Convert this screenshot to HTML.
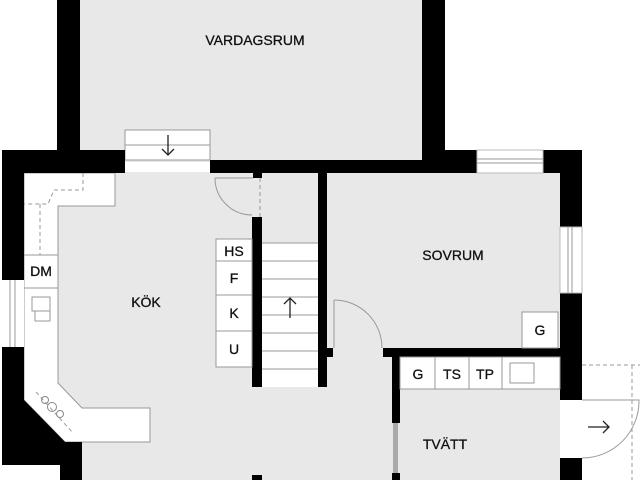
<!DOCTYPE html>
<html><head><meta charset="utf-8"><style>
html,body{margin:0;padding:0;background:#fff;}
svg{display:block}
text{font-family:"Liberation Sans",sans-serif;font-size:14px;fill:#111;text-anchor:middle;stroke:#111;stroke-width:0.3;}
</style></head><body>
<svg width="640" height="480" viewBox="0 0 640 480" xmlns="http://www.w3.org/2000/svg">
<!-- room fills -->
<rect x="80" y="0" width="342" height="162" fill="#e8e8e8"/>
<rect x="24" y="172" width="536" height="308" fill="#e8e8e8"/>
<rect x="0" y="465" width="60" height="15" fill="#fff"/>
<!-- kitchen counters white -->
<polygon points="24,173 115,173 115,206 58,206 58,383 82,408 150,408 150,442 65,442 24,400" fill="#fff" stroke="#999" stroke-width="1"/>
<line x1="24" y1="255" x2="58" y2="255" stroke="#999"/>
<line x1="24" y1="288" x2="58" y2="288" stroke="#999"/>
<g stroke="#999" stroke-dasharray="4,3" fill="none">
<polyline points="83,173 83,190 54,190 48,204 24,204"/>
<line x1="40" y1="204" x2="40" y2="255"/>
<line x1="36" y1="392" x2="73" y2="433"/>
</g>
<rect x="32" y="297" width="18" height="14" fill="none" stroke="#999"/>
<rect x="35" y="311" width="15" height="10" fill="none" stroke="#999"/>
<g fill="none" stroke="#888">
<circle cx="45" cy="400" r="3.5"/><circle cx="52" cy="407" r="4.5"/><circle cx="60" cy="414" r="3.5"/>
</g>
<text x="41" y="276">DM</text>
<!-- stair top (entry) -->
<rect x="125" y="130" width="85" height="30" fill="#fff" stroke="#999"/>
<line x1="125" y1="145" x2="210" y2="145" stroke="#999"/>
<path d="M168 135 V155 M162 149 L168 155 L174 149" stroke="#222" stroke-width="1.3" fill="none"/>
<!-- walls -->
<g fill="#000">
<rect x="57" y="0" width="23" height="162"/>
<rect x="422" y="0" width="23" height="162"/>
<rect x="2" y="150" width="123" height="23"/>
<rect x="210" y="160" width="267" height="13"/>
<rect x="445" y="150" width="32" height="23"/>
<rect x="543" y="150" width="39" height="23"/>
<rect x="560" y="150" width="22" height="77"/>
<rect x="2" y="150" width="22" height="130"/>
<polygon points="2,347 24,347 24,400 65,442 82,442 82,480 60,480 60,465 2,465"/>
<rect x="253" y="160" width="9" height="18"/>
<rect x="252" y="217" width="10" height="170"/>
<rect x="318" y="173" width="9" height="214"/>
<rect x="318" y="348" width="15" height="9"/>
<rect x="383" y="348" width="177" height="9"/>
<rect x="560" y="293" width="22" height="107"/>
<rect x="560" y="458" width="22" height="22"/>
<rect x="392" y="348" width="8" height="75"/>
<rect x="392" y="473" width="8" height="7"/>
<rect x="252" y="475" width="10" height="5"/>
</g>
<rect x="393" y="423" width="5" height="50" fill="#aaa"/>
<!-- windows -->
<rect x="2" y="280" width="22" height="67" fill="#fff"/>
<line x1="10" y1="280" x2="10" y2="347" stroke="#999"/><line x1="15" y1="280" x2="15" y2="347" stroke="#999"/>
<rect x="477" y="150" width="66" height="23" fill="#fff" stroke="#bbb"/>
<line x1="477" y1="159" x2="543" y2="159" stroke="#999"/><line x1="477" y1="163" x2="543" y2="163" stroke="#999"/>
<rect x="560" y="227" width="22" height="66" fill="#fff" stroke="#bbb"/>
<line x1="568" y1="227" x2="568" y2="293" stroke="#999"/><line x1="572" y1="227" x2="572" y2="293" stroke="#999"/>
<!-- door near stairs -->
<path d="M215 178 A37 37 0 0 0 252 215" fill="none" stroke="#999"/>
<line x1="215" y1="178" x2="253" y2="178" stroke="#999"/>
<line x1="260" y1="178" x2="260" y2="217" stroke="#999" stroke-dasharray="4,3"/>
<!-- stairs -->
<rect x="262" y="243" width="56" height="144" fill="#fff"/>
<g stroke="#999">
<line x1="262" y1="243" x2="318" y2="243"/><line x1="262" y1="261" x2="318" y2="261"/>
<line x1="262" y1="279" x2="318" y2="279"/><line x1="262" y1="297" x2="318" y2="297"/>
<line x1="262" y1="315" x2="318" y2="315"/><line x1="262" y1="333" x2="318" y2="333"/>
<line x1="262" y1="351" x2="318" y2="351"/><line x1="262" y1="369" x2="318" y2="369"/>
</g>
<path d="M290 318 V298 M284 304 L290 298 L296 304" stroke="#222" stroke-width="1.3" fill="none"/>
<rect x="216" y="239" width="36" height="128" fill="#fff" stroke="#999"/>
<g stroke="#999"><line x1="216" y1="261" x2="252" y2="261"/><line x1="216" y1="295" x2="252" y2="295"/><line x1="216" y1="331" x2="252" y2="331"/></g>
<text x="234" y="256">HS</text><text x="234" y="283">F</text><text x="234" y="318">K</text><text x="234" y="354">U</text>
<!-- sovrum door -->
<path d="M334 300 A48 48 0 0 1 382 348" fill="none" stroke="#999"/>
<line x1="334" y1="300" x2="334" y2="348" stroke="#999"/>
<!-- sovrum G -->
<rect x="522" y="312" width="36" height="36" fill="#fff" stroke="#999"/>
<text x="540" y="335">G</text>
<!-- tvätt counter -->
<rect x="400" y="357" width="160" height="32" fill="#fff" stroke="#999"/>
<g stroke="#999"><line x1="435" y1="357" x2="435" y2="389"/><line x1="469" y1="357" x2="469" y2="389"/><line x1="502" y1="357" x2="502" y2="389"/></g>
<rect x="510" y="363" width="24" height="20" fill="none" stroke="#999"/>
<text x="418" y="379">G</text><text x="452" y="379">TS</text><text x="485" y="379">TP</text>
<!-- exterior door -->
<g stroke="#999" fill="none" stroke-dasharray="4,3">
<line x1="582" y1="365" x2="640" y2="365"/><line x1="632" y1="365" x2="632" y2="480"/>
</g>
<path d="M582 400 L639 400 A57 57 0 0 1 582 458" fill="none" stroke="#999"/>
<path d="M588 427 H609 M603 421 L609 427 L603 433" stroke="#222" stroke-width="1.3" fill="none"/>
<!-- labels -->
<text x="255" y="45">VARDAGSRUM</text>
<text x="146" y="307">KÖK</text>
<text x="453" y="260">SOVRUM</text>
<text x="445" y="449">TVÄTT</text>
</svg>
</body></html>
